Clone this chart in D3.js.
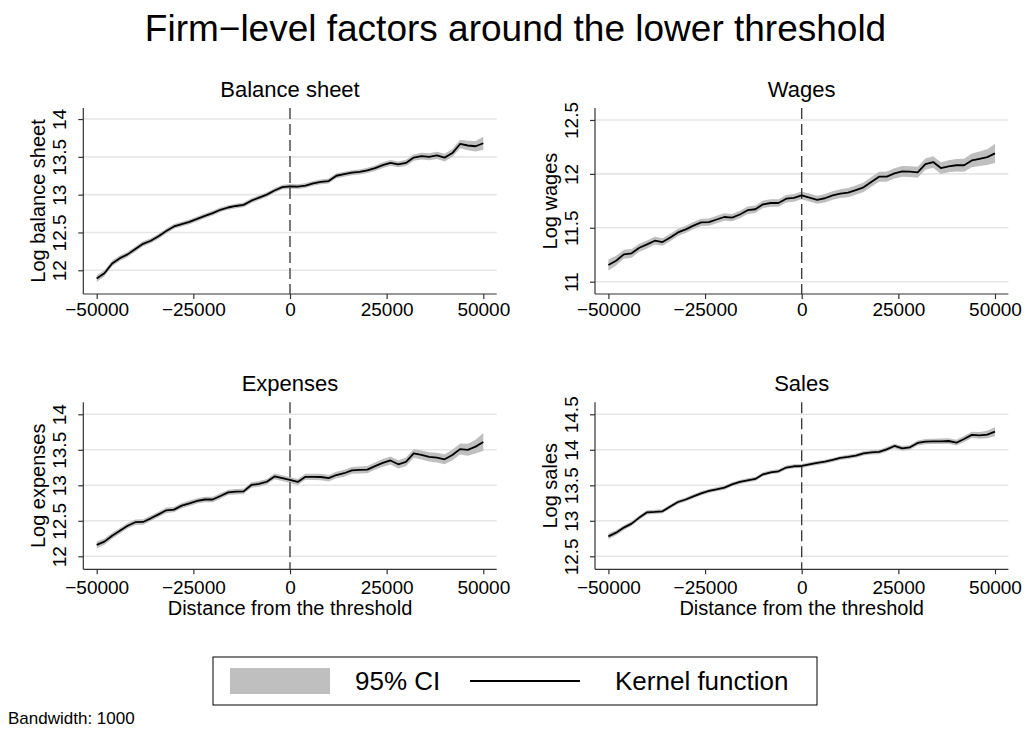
<!DOCTYPE html>
<html><head><meta charset="utf-8">
<script src="https://cdn.jsdelivr.net/npm/d3@7"></script>
<style>
body{margin:0;background:#fff}
svg{display:block}
text{font-family:"Liberation Sans",Arial,Helvetica,sans-serif;fill:#000}
</style>
</head><body>
<svg id="chart" width="1025" height="738"></svg>
<script>
// ---------- data ----------
const distance = [-50000,-48000,-46000,-44000,-42000,-40000,-38000,-36000,-34000,-32000,-30000,
  -28000,-26000,-24000,-22000,-20000,-18000,-16000,-14000,-12000,-10000,-8000,-6000,-4000,-2000,0,
  2000,4000,6000,8000,10000,12000,14000,16000,18000,20000,22000,24000,26000,28000,30000,
  32000,34000,36000,38000,40000,42000,44000,46000,48000,50000];

const balanceSheet = [11.89,11.96,12.09,12.16,12.21,12.28,12.35,12.39,12.45,12.52,12.58,
  12.61,12.64,12.68,12.72,12.755,12.80,12.83,12.85,12.865,12.92,12.96,13.00,13.055,13.10,13.11,
  13.105,13.12,13.15,13.17,13.18,13.25,13.27,13.29,13.30,13.32,13.35,13.39,13.42,13.40,13.42,
  13.49,13.51,13.50,13.52,13.49,13.55,13.67,13.65,13.64,13.68];
const balanceSheetCI = [0.045,0.04,0.038,0.036,0.035,0.035,0.034,0.034,0.033,0.033,0.032,
  0.032,0.032,0.031,0.031,0.031,0.031,0.031,0.031,0.031,0.031,0.031,0.031,0.031,0.031,0.031,
  0.031,0.031,0.032,0.032,0.032,0.033,0.033,0.034,0.034,0.035,0.036,0.037,0.038,0.039,0.04,
  0.042,0.044,0.046,0.048,0.05,0.053,0.057,0.062,0.068,0.085];

const wages = [11.155,11.195,11.254,11.263,11.315,11.346,11.38,11.368,11.41,11.457,11.485,
  11.52,11.55,11.552,11.577,11.60,11.595,11.623,11.663,11.672,11.718,11.73,11.73,11.77,11.777,11.80,
  11.78,11.76,11.774,11.80,11.817,11.826,11.85,11.875,11.925,11.974,11.974,12.005,12.023,12.02,12.014,
  12.09,12.11,12.054,12.07,12.08,12.08,12.125,12.14,12.155,12.19];
const wagesCI = [0.052,0.045,0.042,0.04,0.038,0.037,0.036,0.035,0.035,0.034,0.034,
  0.034,0.034,0.034,0.034,0.034,0.034,0.034,0.034,0.034,0.034,0.034,0.035,0.035,0.036,0.036,
  0.037,0.038,0.039,0.04,0.041,0.042,0.043,0.044,0.045,0.046,0.047,0.048,0.049,0.05,0.051,
  0.052,0.053,0.054,0.056,0.058,0.06,0.063,0.067,0.073,0.09];

const expenses = [12.16,12.207,12.29,12.36,12.43,12.48,12.484,12.535,12.59,12.648,12.657,
  12.714,12.747,12.78,12.80,12.80,12.85,12.90,12.91,12.915,13.005,13.02,13.05,13.125,13.10,13.075,
  13.047,13.12,13.12,13.117,13.10,13.145,13.17,13.21,13.216,13.22,13.27,13.315,13.35,13.296,13.33,
  13.45,13.427,13.40,13.39,13.366,13.427,13.51,13.50,13.545,13.61];
const expensesCI = [0.05,0.045,0.042,0.04,0.04,0.039,0.039,0.038,0.038,0.038,0.038,
  0.038,0.038,0.038,0.038,0.038,0.038,0.038,0.038,0.038,0.038,0.039,0.039,0.04,0.04,0.041,
  0.042,0.043,0.044,0.045,0.046,0.047,0.048,0.049,0.05,0.051,0.052,0.054,0.056,0.058,0.06,
  0.062,0.064,0.066,0.068,0.07,0.073,0.077,0.085,0.097,0.125];

const sales = [12.78,12.833,12.904,12.96,13.045,13.12,13.125,13.134,13.20,13.265,13.30,
  13.345,13.387,13.42,13.444,13.467,13.514,13.547,13.57,13.59,13.655,13.683,13.697,13.75,13.768,13.772,
  13.796,13.815,13.833,13.857,13.885,13.90,13.918,13.95,13.965,13.97,14.007,14.054,14.02,14.035,14.096,
  14.115,14.12,14.12,14.124,14.10,14.153,14.21,14.204,14.214,14.256];
const salesCI = [0.04,0.035,0.033,0.032,0.031,0.03,0.03,0.029,0.029,0.029,0.028,
  0.028,0.028,0.028,0.028,0.028,0.028,0.028,0.028,0.028,0.028,0.028,0.028,0.028,0.028,0.028,
  0.028,0.028,0.028,0.028,0.029,0.029,0.029,0.03,0.03,0.031,0.031,0.032,0.033,0.034,0.035,
  0.036,0.037,0.038,0.039,0.04,0.042,0.045,0.048,0.053,0.065];

const panelTitles = ["Balance sheet","Wages","Expenses","Sales"];
const yTitles = ["Log balance sheet","Log wages","Log expenses","Log sales"];
const yTickValues = [[12,12.5,13,13.5,14],[11,11.5,12,12.5],[12,12.5,13,13.5,14],[12.5,13,13.5,14,14.5]];
const yDomains = [[11.686,14.146],[10.886,12.611],[11.817,14.169],[12.317,14.669]];
const xTickValues = [-50000,-25000,0,25000,50000];
const xTitle = "Distance from the threshold";
const mainTitle = "Firm\u2212level factors around the lower threshold";
const legendLabels = ["95% CI","Kernel function"];
const noteText = "Bandwidth: 1000";

const seriesValues = [balanceSheet, wages, expenses, sales];
const seriesCI = [balanceSheetCI, wagesCI, expensesCI, salesCI];

// ---------- layout ----------
const frames = [
  {L:83.3, R:496.7, T:108, B:294, row:0},
  {L:595,  R:1008.4, T:108, B:294, row:0},
  {L:83.3, R:496.7, T:402.3, B:569.3, row:1},
  {L:595,  R:1008.4, T:402.3, B:569.3, row:1}
];
const INSET = 13.4;
const BAND = "#bfbfbf", GRID = "#e6e6e6", AXIS = "#333";

const svg = d3.select("#chart");
svg.append("rect").attr("width",1025).attr("height",738).attr("fill","#fff");

svg.append("text").attr("x",515.5).attr("y",41).attr("text-anchor","middle")
  .style("font-size","37px").text(mainTitle);

frames.forEach((f, i) => {
  const g = svg.append("g");
  const x = d3.scaleLinear().domain([-50000,50000]).range([f.L+INSET, f.R-INSET]);
  const y = d3.scaleLinear().domain(yDomains[i]).range([f.B, f.T]);
  const data = distance.map((d,k)=>({x:d, v:seriesValues[i][k], c:seriesCI[i][k]}));

  // gridlines
  g.selectAll("line.grid").data(yTickValues[i]).join("line").attr("class","grid")
    .attr("x1",f.L).attr("x2",f.R).attr("y1",d=>y(d)).attr("y2",d=>y(d))
    .attr("stroke",GRID).attr("stroke-width",1.6);

  // CI band
  g.append("path").datum(data)
    .attr("d", d3.area().x(d=>x(d.x)).y0(d=>y(d.v-d.c)).y1(d=>y(d.v+d.c)))
    .attr("fill",BAND);

  // threshold line
  g.append("line").attr("x1",x(0)).attr("x2",x(0)).attr("y1",f.T).attr("y2",f.B)
    .attr("stroke","#333").attr("stroke-width",1.3).attr("stroke-dasharray","11,5");

  // kernel line
  g.append("path").datum(data)
    .attr("d", d3.line().x(d=>x(d.x)).y(d=>y(d.v)))
    .attr("fill","none").attr("stroke","#000").attr("stroke-width",1.8).attr("stroke-linejoin","round");

  // axes lines
  g.append("line").attr("x1",f.L).attr("x2",f.L).attr("y1",f.T).attr("y2",f.B)
    .attr("stroke",AXIS).attr("stroke-width",1.2);
  g.append("line").attr("x1",f.L).attr("x2",f.R).attr("y1",f.B).attr("y2",f.B)
    .attr("stroke",AXIS).attr("stroke-width",1.2);

  // x axis
  const xa = g.append("g").attr("transform",`translate(0,${f.B})`)
    .call(d3.axisBottom(x).tickValues(xTickValues).tickSize(5).tickSizeOuter(0).tickFormat(d3.format("d")));
  xa.select(".domain").remove();
  xa.selectAll(".tick line").attr("stroke",AXIS).attr("stroke-width",1.2);
  xa.selectAll(".tick text").attr("y", f.row===0 ? 22 : 25).attr("dy",0)
    .style("font-size","19px").attr("fill","#000").attr("font-family",null);

  // y axis
  const ya = g.append("g").attr("transform",`translate(${f.L},0)`)
    .call(d3.axisLeft(y).tickValues(yTickValues[i]).tickSize(5).tickSizeOuter(0).tickFormat(d=>String(d)));
  ya.select(".domain").remove();
  ya.selectAll(".tick line").attr("stroke",AXIS).attr("stroke-width",1.2);
  ya.selectAll(".tick text").attr("transform","rotate(-90)").attr("x",0).attr("y",-17.5).attr("dy",0)
    .attr("text-anchor","middle").style("font-size","19px").attr("fill","#000").attr("font-family",null);

  // titles
  g.append("text").attr("x",(f.L+f.R)/2).attr("y",f.T-11).attr("text-anchor","middle")
    .style("font-size","22px").text(panelTitles[i]);
  g.append("text").attr("transform",`translate(${f.L-38},${(f.T+f.B)/2}) rotate(-90)`)
    .attr("text-anchor","middle").style("font-size","20px").text(yTitles[i]);
  if (f.row===1) {
    g.append("text").attr("x",(f.L+f.R)/2).attr("y",f.B+46).attr("text-anchor","middle")
      .style("font-size","20px").text(xTitle);
  }
});

// legend
const lg = svg.append("g");
lg.append("rect").attr("x",213).attr("y",657).attr("width",604).attr("height",48)
  .attr("fill","#fff").attr("stroke","#000").attr("stroke-width",1);
lg.append("rect").attr("x",230).attr("y",668).attr("width",100).attr("height",26).attr("fill",BAND);
lg.append("text").attr("x",355).attr("y",690).style("font-size","26px").text(legendLabels[0]);
lg.append("line").attr("x1",470).attr("x2",580).attr("y1",681).attr("y2",681)
  .attr("stroke","#000").attr("stroke-width",1.8);
lg.append("text").attr("x",615).attr("y",690).style("font-size","26px").text(legendLabels[1]);

svg.append("text").attr("x",8).attr("y",724).style("font-size","17px").text(noteText);
</script>
</body></html>
